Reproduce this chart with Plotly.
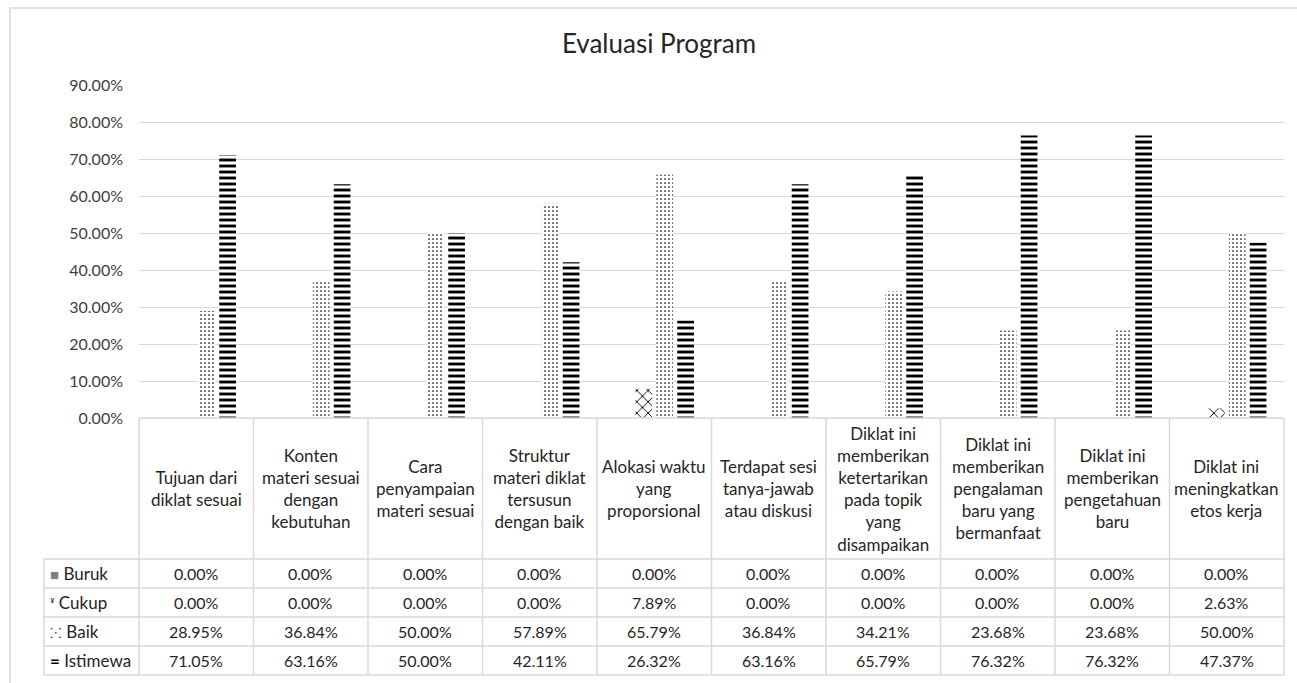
import plotly.graph_objects as go

categories = [
    "Tujuan dari diklat sesuai",
    "Konten materi sesuai dengan kebutuhan",
    "Cara penyampaian materi sesuai",
    "Struktur materi diklat tersusun dengan baik",
    "Alokasi waktu yang proporsional",
    "Terdapat sesi tanya-jawab atau diskusi",
    "Diklat ini memberikan ketertarikan pada topik yang disampaikan",
    "Diklat ini memberikan pengalaman baru yang bermanfaat",
    "Diklat ini memberikan pengetahuan baru",
    "Diklat ini meningkatkan etos kerja",
]
header_labels = [
    "Tujuan dari<br>diklat sesuai",
    "Konten<br>materi sesuai<br>dengan<br>kebutuhan",
    "Cara<br>penyampaian<br>materi sesuai",
    "Struktur<br>materi diklat<br>tersusun<br>dengan baik",
    "Alokasi waktu<br>yang<br>proporsional",
    "Terdapat sesi<br>tanya-jawab<br>atau diskusi",
    "Diklat ini<br>memberikan<br>ketertarikan<br>pada topik<br>yang<br>disampaikan",
    "Diklat ini<br>memberikan<br>pengalaman<br>baru yang<br>bermanfaat",
    "Diklat ini<br>memberikan<br>pengetahuan<br>baru",
    "Diklat ini<br>meningkatkan<br>etos kerja",
]
series_names = ["Buruk", "Cukup", "Baik", "Istimewa"]
buruk = [0.0, 0.0, 0.0, 0.0, 0.0, 0.0, 0.0, 0.0, 0.0, 0.0]
cukup = [0.0, 0.0, 0.0, 0.0, 0.0789, 0.0, 0.0, 0.0, 0.0, 0.0263]
baik = [0.2895, 0.3684, 0.5, 0.5789, 0.6579, 0.3684, 0.3421, 0.2368, 0.2368, 0.5]
istimewa = [0.7105, 0.6316, 0.5, 0.4211, 0.2632, 0.6316, 0.6579, 0.7632, 0.7632, 0.4737]
y_ticks = [0, 0.1, 0.2, 0.3, 0.4, 0.5, 0.6, 0.7, 0.8, 0.9]
legend_icons = ["■", "ˠ", "⁙", "<b>=</b>"]
icon_colors = ["#7f7f7f", "#202020", "#404040", "#000000"]
icon_sizes = [15, 15, 14, 17]

all_series = [buruk, cukup, baik, istimewa]
patterns = [
    dict(shape="", fillmode="replace"),
    dict(shape="x", size=8, solidity=0.22, fgcolor="#000000", bgcolor="#ffffff", fillmode="replace"),
    dict(shape=".", size=4, solidity=0.14, fgcolor="#000000", bgcolor="#ffffff", fillmode="replace"),
    dict(shape="-", size=6, solidity=0.48, fgcolor="#000000", bgcolor="#ffffff", fillmode="replace"),
]
solid = ["#7f7f7f", "#ffffff", "#ffffff", "#ffffff"]

FONT = "Lato"
W, H = 1297, 683
L, R, T, B = 139, 1284, 85, 418  # plot area pixels

fig = go.Figure()
for name, vals, pat, col in zip(series_names, all_series, patterns, solid):
    fig.add_trace(go.Bar(
        x=categories, y=vals, name=name,
        marker=dict(color=col, line=dict(width=0), pattern=pat),
        showlegend=False,
    ))

def px2x(px):
    return (px - L) / (R - L)

def py2y(py):
    return (B - py) / (B - T)

shapes = []
annotations = []
line_col = "#d9d9d9"
n = len(categories)
cw = (R - L) / n
row_tops = [559, 588, 617, 646, 675]
tbl_left = 44

# horizontal lines
shapes.append(dict(type="line", xref="paper", yref="paper", x0=px2x(L), x1=px2x(R),
                   y0=py2y(B), y1=py2y(B), line=dict(color=line_col, width=1.5)))
for ry in row_tops:
    shapes.append(dict(type="line", xref="paper", yref="paper", x0=px2x(tbl_left), x1=px2x(R),
                       y0=py2y(ry), y1=py2y(ry), line=dict(color=line_col, width=1.5)))
# vertical lines
for k in range(n + 1):
    xx = L + k * cw
    shapes.append(dict(type="line", xref="paper", yref="paper", x0=px2x(xx), x1=px2x(xx),
                       y0=py2y(B), y1=py2y(row_tops[-1]), line=dict(color=line_col, width=1.5)))
shapes.append(dict(type="line", xref="paper", yref="paper", x0=px2x(tbl_left), x1=px2x(tbl_left),
                   y0=py2y(row_tops[0]), y1=py2y(row_tops[-1]), line=dict(color=line_col, width=1.5)))
# outer chart border
shapes.append(dict(type="rect", xref="paper", yref="paper", x0=px2x(10), x1=px2x(1300),
                   y0=py2y(690), y1=py2y(8), line=dict(color="#d9d9d9", width=1.5)))

txt_col = "#262626"
# header labels
for k, lab in enumerate(header_labels):
    annotations.append(dict(xref="paper", yref="paper", x=px2x(L + (k + 0.5) * cw),
                            y=py2y((B + row_tops[0]) / 2), text=lab, showarrow=False,
                            xanchor="center", yanchor="middle", align="center",
                            font=dict(family=FONT, size=17, color=txt_col)))
# data rows
for r, (name, vals) in enumerate(zip(series_names, all_series)):
    cy = (row_tops[r] + row_tops[r + 1]) / 2
    annotations.append(dict(xref="paper", yref="paper", x=px2x(tbl_left + 4), y=py2y(cy),
                            text=(f"<span style='color:{icon_colors[r]};font-size:{icon_sizes[r]}px'>"
                                  f"{legend_icons[r]}</span> {name}"),
                            showarrow=False, xanchor="left", yanchor="middle",
                            font=dict(family=FONT, size=17, color=txt_col)))
    for k, v in enumerate(vals):
        annotations.append(dict(xref="paper", yref="paper", x=px2x(L + (k + 0.5) * cw), y=py2y(cy),
                                text=f"{v * 100:.2f}%", showarrow=False, xanchor="center",
                                yanchor="middle", font=dict(family=FONT, size=16, color=txt_col)))

fig.update_layout(
    width=W, height=H,
    margin=dict(l=L, r=W - R, t=T, b=H - B),
    paper_bgcolor="white", plot_bgcolor="white",
    barmode="group", bargap=0.27, bargroupgap=0.2,
    title=dict(text="Evaluasi Program", x=659 / W, xanchor="center", xref="container",
               y=1 - 44 / H, yanchor="middle", yref="container",
               font=dict(family=FONT, size=26, color="#262626")),
    xaxis=dict(showticklabels=False, showgrid=False, zeroline=False, showline=False, ticks=""),
    yaxis=dict(range=[0, 0.9], tickvals=y_ticks, tickformat=".2%", showgrid=True,
               gridcolor="#d9d9d9", gridwidth=1.3, zeroline=False, showline=False,
               ticks="", ticklabelstandoff=15,
               tickfont=dict(family=FONT, size=16, color="#404040")),
    shapes=shapes, annotations=annotations,
    font=dict(family=FONT),
)

fig.write_html("out.html")
